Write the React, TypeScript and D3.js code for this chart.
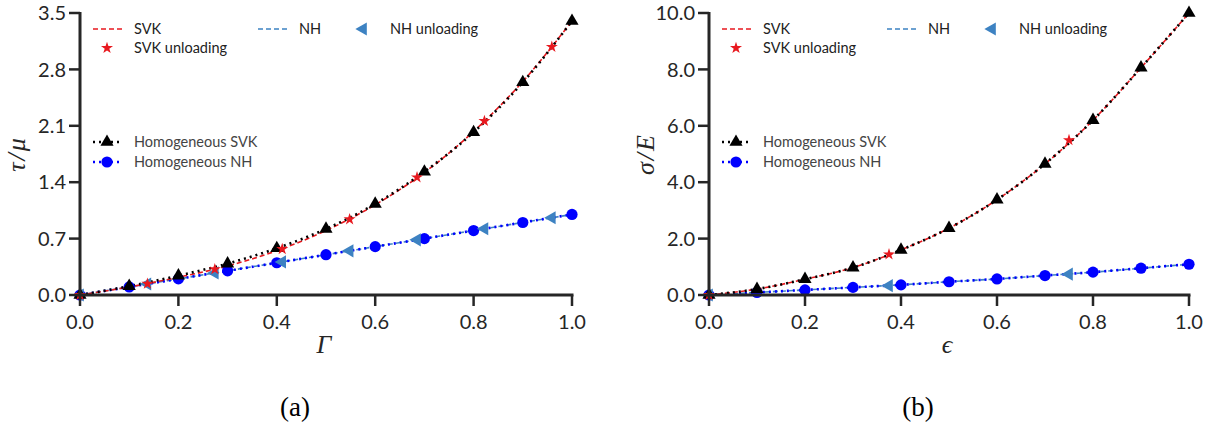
import React from "react";
import * as d3 from "d3";

// ---------- data ----------
const gammaGrid = [0, 0.1, 0.2, 0.3, 0.4, 0.5, 0.6, 0.7, 0.8, 0.9, 1.0];
const tauSVK = [0, 0.1, 0.22, 0.36, 0.55, 0.8, 1.12, 1.52, 2.03, 2.65, 3.4];
const tauHomSVK = [0, 0.11, 0.24, 0.39, 0.58, 0.82, 1.13, 1.53, 2.02, 2.64, 3.4];
const tauNH = [0, 0.1, 0.2, 0.3, 0.4, 0.5, 0.6, 0.7, 0.8, 0.9, 1.0];
const tauHomNH = [0, 0.1, 0.2, 0.3, 0.4, 0.5, 0.6, 0.7, 0.8, 0.9, 1.0];
const gammaUnload = [0, 0.137, 0.274, 0.411, 0.548, 0.685, 0.822, 0.959];
const tauSVKUnload = [0, 0.14, 0.32, 0.57, 0.94, 1.46, 2.16, 3.08];
const tauNHUnload = [0, 0.137, 0.274, 0.411, 0.548, 0.685, 0.822, 0.959];

const epsGrid = [0, 0.1, 0.2, 0.3, 0.4, 0.5, 0.6, 0.7, 0.8, 0.9, 1.0];
const sigSVK = [0, 0.21, 0.56, 0.97, 1.6, 2.37, 3.38, 4.65, 6.2, 8.06, 10.0];
const sigHomSVK = [0, 0.21, 0.56, 0.97, 1.6, 2.37, 3.38, 4.65, 6.2, 8.06, 10.0];
const sigNH = [0, 0.09, 0.18, 0.27, 0.36, 0.47, 0.57, 0.69, 0.81, 0.95, 1.09];
const sigHomNH = [0, 0.09, 0.18, 0.27, 0.36, 0.47, 0.57, 0.69, 0.81, 0.95, 1.09];
const epsUnload = [0, 0.375, 0.75];
const sigSVKUnload = [0, 1.44, 5.49];
const sigNHUnload = [0, 0.33, 0.74];

const xTicks = [0, 0.2, 0.4, 0.6, 0.8, 1.0];
const yTicksA = [0, 0.7, 1.4, 2.1, 2.8, 3.5];
const yTicksB = [0, 2, 4, 6, 8, 10];

// ---------- styles ----------
const AXIS = "#262626";
const RED = "#e8191f";
const STEEL = "#3d82c2";
const BLUE = "#0000ff";
const TICKFONT = "Lato, 'Open Sans', sans-serif";
const SERIF = "'Liberation Serif', 'DejaVu Serif', serif";

type PanelProps = {
  left: number;
  right: number;
  top: number;
  bottom: number;
  yMax: number;
  yTicks: number[];
  xs: number[];
  svk: number[];
  homSvk: number[];
  nh: number[];
  homNh: number[];
  xUn: number[];
  svkUn: number[];
  nhUn: number[];
  yLabel: React.ReactNode;
  xLabel: React.ReactNode;
  caption: string;
};

const triUp = d3.symbol().type(d3.symbolTriangle).size(75)()!;
const star = d3.symbol().type(d3.symbolStar).size(45)()!;

function Panel(p: PanelProps) {
  const x = d3.scaleLinear().domain([0, 1]).range([p.left, p.right]);
  const y = d3.scaleLinear().domain([0, p.yMax]).range([p.bottom, p.top]);
  const mk = (ys: number[], xs: number[]) =>
    d3
      .line<number>()
      .x((_, i) => x(xs[i]))
      .y((v) => y(v))
      .curve(d3.curveMonotoneX)(ys)!;
  const fmt = d3.format(".1f");
  const cx = (p.left + p.right) / 2;
  const lx = p.left + 13;
  return (
    <g>
      {/* lines */}
      <path d={mk(p.nh, p.xs)} fill="none" stroke={STEEL} strokeWidth={1.6} strokeDasharray="5,3" />
      <path d={mk(p.homNh, p.xs)} fill="none" stroke={BLUE} strokeWidth={2.6} strokeDasharray="2,4" strokeLinecap="butt" />
      <path d={mk(p.svk, p.xs)} fill="none" stroke={RED} strokeWidth={1.6} strokeDasharray="5,3" />
      <path d={mk(p.homSvk, p.xs)} fill="none" stroke="#000" strokeWidth={2.6} strokeDasharray="2,4" />
      {/* markers */}
      {p.homNh.map((v, i) => (
        <circle key={"c" + i} cx={x(p.xs[i])} cy={y(v)} r={5.6} fill={BLUE} />
      ))}
      {p.nhUn.map((v, i) => (
        <path key={"nu" + i} d={triUp} transform={`translate(${x(p.xUn[i])},${y(v)}) rotate(-90)`} fill={STEEL} />
      ))}
      {p.homSvk.map((v, i) => (
        <path key={"t" + i} d={triUp} transform={`translate(${x(p.xs[i])},${y(v)})`} fill="#000" />
      ))}
      {p.svkUn.map((v, i) => (
        <path key={"s" + i} d={star} transform={`translate(${x(p.xUn[i])},${y(v)})`} fill={RED} />
      ))}
      {/* axes */}
      <line x1={p.left} x2={p.left} y1={p.top - 1} y2={p.bottom + 1.5} stroke={AXIS} strokeWidth={3} />
      <line x1={p.left - 1.5} x2={p.right + 1.5} y1={p.bottom} y2={p.bottom} stroke={AXIS} strokeWidth={3} />
      {p.yTicks.map((t) => (
        <g key={"yt" + t}>
          <line x1={p.left - 11} x2={p.left} y1={y(t)} y2={y(t)} stroke={AXIS} strokeWidth={2.5} />
          <text x={p.left - 14} y={y(t)} dy="0.36em" textAnchor="end" fontFamily={TICKFONT} fontSize={20} fill={AXIS}>
            {fmt(t)}
          </text>
        </g>
      ))}
      {xTicks.map((t) => (
        <g key={"xt" + t}>
          <line x1={x(t)} x2={x(t)} y1={p.bottom} y2={p.bottom + 11} stroke={AXIS} strokeWidth={2.5} />
          <text x={x(t)} y={p.bottom + 34} textAnchor="middle" fontFamily={TICKFONT} fontSize={20} fill={AXIS}>
            {fmt(t)}
          </text>
        </g>
      ))}
      {/* axis labels */}
      <text x={cx - 2} y={p.bottom + 58} textAnchor="middle" fontFamily={SERIF} fontStyle="italic" fontSize={26} fill={AXIS}>
        {p.xLabel}
      </text>
      <text
        transform={`translate(${p.left - 55},${(p.top + p.bottom) / 2}) rotate(-90)`}
        textAnchor="middle"
        fontFamily={SERIF}
        fontStyle="italic"
        fontSize={26}
        letterSpacing={2}
        fill={AXIS}
      >
        {p.yLabel}
      </text>
      <text x={cx - 31} y={416} textAnchor="middle" fontFamily={SERIF} fontSize={27} fill="#000">
        {p.caption}
      </text>
      {/* legend top */}
      <g fontFamily={TICKFONT} fontSize={14.5} fill="#222">
        <line x1={lx} x2={lx + 30} y1={29} y2={29} stroke={RED} strokeWidth={1.6} strokeDasharray="5,3" />
        <text x={lx + 41} y={29} dy="0.36em">SVK</text>
        <path d={star} transform={`translate(${lx + 14},48)`} fill={RED} />
        <text x={lx + 41} y={48} dy="0.36em">SVK unloading</text>
        <line x1={lx + 165} x2={lx + 196} y1={29} y2={29} stroke={STEEL} strokeWidth={1.6} strokeDasharray="5,3" />
        <text x={lx + 206} y={29} dy="0.36em">NH</text>
        <path d={triUp} transform={`translate(${lx + 270},29) rotate(-90)`} fill={STEEL} />
        <text x={lx + 297} y={29} dy="0.36em">NH unloading</text>
      </g>
      {/* legend homogeneous */}
      <g fontFamily={TICKFONT} fontSize={14.5} fill="#444">
        <line x1={lx} x2={lx + 27} y1={142} y2={142} stroke="#000" strokeWidth={2.6} strokeDasharray="2,4" />
        <path d={triUp} transform={`translate(${lx + 14},142)`} fill="#000" />
        <text x={lx + 41} y={142} dy="0.36em">Homogeneous SVK</text>
        <line x1={lx} x2={lx + 27} y1={162} y2={162} stroke={BLUE} strokeWidth={2.6} strokeDasharray="2,4" />
        <circle cx={lx + 14} cy={162} r={5.6} fill={BLUE} />
        <text x={lx + 41} y={162} dy="0.36em">Homogeneous NH</text>
      </g>
    </g>
  );
}

export default function App() {
  return (
    <svg width={1211} height={429} style={{ position: "absolute", left: 0, top: 0, background: "#fff" }}>
      <rect width={1211} height={429} fill="#fff" />
      <Panel
        left={80}
        right={572}
        top={13}
        bottom={295}
        yMax={3.5}
        yTicks={yTicksA}
        xs={gammaGrid}
        svk={tauSVK}
        homSvk={tauHomSVK}
        nh={tauNH}
        homNh={tauHomNH}
        xUn={gammaUnload}
        svkUn={tauSVKUnload}
        nhUn={tauNHUnload}
        yLabel={"τ/μ"}
        xLabel={"Γ"}
        caption="(a)"
      />
      <Panel
        left={709}
        right={1189}
        top={13}
        bottom={295}
        yMax={10}
        yTicks={yTicksB}
        xs={epsGrid}
        svk={sigSVK}
        homSvk={sigHomSVK}
        nh={sigNH}
        homNh={sigHomNH}
        xUn={epsUnload}
        svkUn={sigSVKUnload}
        nhUn={sigNHUnload}
        yLabel={"σ/E"}
        xLabel={"ϵ"}
        caption="(b)"
      />
    </svg>
  );
}
